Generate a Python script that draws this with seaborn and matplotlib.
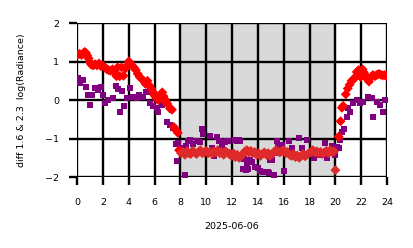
import numpy as np
import pandas as pd
import matplotlib
matplotlib.use("Agg")
import matplotlib.pyplot as plt
import seaborn as sns

# ---- data (hours of 2025-06-06, value) ----
red_hours = [
    0.05, 0.2, 0.35, 0.5, 0.6, 0.7, 0.8, 0.9, 1.0, 1.1, 1.25, 1.4, 1.55, 1.7, 1.85, 2.0,
    2.15, 2.3, 2.45, 2.6, 2.75, 2.9, 3.05, 3.15, 3.3, 3.45, 3.6, 3.75, 3.9, 4.0, 4.1, 4.25,
    4.4, 4.55, 4.7, 4.85, 5.0, 5.15, 5.3, 5.45, 5.6, 5.75, 5.9, 6.0, 6.1, 6.2, 6.3, 6.4,
    6.5, 6.6, 6.7, 6.8, 6.9, 7.0, 7.2, 7.35, 7.5, 7.65, 7.8,
    7.9, 8.05, 8.2, 8.35, 8.5, 8.65, 8.8, 8.95, 9.1, 9.25, 9.4, 9.55, 9.7, 9.85, 10.0,
    10.15, 10.3, 10.45, 10.6, 10.75, 10.9, 11.05, 11.2, 11.35, 11.5, 11.65, 11.8, 11.95,
    12.1, 12.25, 12.4, 12.55, 12.7, 12.85, 13.0, 13.15, 13.3, 13.45, 13.6, 13.75, 13.9,
    14.05, 14.2, 14.35, 14.5, 14.65, 14.8, 14.95, 15.1, 15.25, 15.4, 15.55, 15.7, 15.85,
    16.0, 16.15, 16.3, 16.45, 16.6, 16.75, 16.9, 17.05, 17.2, 17.35, 17.5, 17.65, 17.8,
    17.95, 18.1, 18.25, 18.4, 18.55, 18.7, 18.85, 19.0, 19.15, 19.3, 19.45, 19.6, 19.75,
    19.9, 20.0,
    20.25, 20.4, 20.5, 20.6, 20.8, 20.95, 21.1, 21.25, 21.45, 21.6, 21.65, 21.8, 21.95,
    22.1, 22.2, 22.3, 22.45, 22.6, 22.75, 22.9, 23.05, 23.2, 23.35, 23.5, 23.65, 23.8, 23.95,
]
red_values = [
    1.18, 1.20, 1.17, 1.22, 1.25, 1.22, 1.15, 1.08, 0.98, 0.92, 0.90, 0.93, 0.90, 0.95, 0.88, 0.90,
    0.85, 0.80, 0.78, 0.76, 0.80, 0.72, 0.62, 0.85, 0.62, 0.85, 0.63, 0.82, 0.90, 1.00, 0.97, 0.90,
    0.85, 0.78, 0.68, 0.60, 0.55, 0.50, 0.42, 0.50, 0.38, 0.30, 0.20, 0.12, 0.08, 0.03, 0.00, 0.06,
    0.15, 0.20, 0.10, 0.02, -0.05, -0.10, -0.22, -0.25, -0.70, -0.78, -0.85,
    -1.30, -1.38, -1.35, -1.42, -1.33, -1.38, -1.40, -1.32, -1.36, -1.40, -1.35, -1.30, -1.38, -1.36, -1.32,
    -1.38, -1.34, -1.40, -1.33, -1.36, -1.30, -1.38, -1.35, -1.42, -1.33, -1.37, -1.40, -1.45,
    -1.38, -1.48, -1.42, -1.50, -1.45, -1.40, -1.33, -1.30, -1.36, -1.32, -1.38, -1.35, -1.42,
    -1.38, -1.45, -1.40, -1.36, -1.42, -1.38, -1.45, -1.40, -1.35, -1.30, -1.33, -1.36, -1.32,
    -1.30, -1.38, -1.35, -1.42, -1.45, -1.40, -1.48, -1.44, -1.50, -1.45, -1.40, -1.46, -1.42,
    -1.38, -1.35, -1.30, -1.36, -1.33, -1.38, -1.35, -1.40, -1.36, -1.32, -1.38, -1.30, -1.35,
    -1.33, -1.82,
    -0.95, -0.55, -0.20, -0.15, 0.15, 0.30, 0.40, 0.50, 0.55, 0.62, 0.73, 0.78, 0.60,
    0.80, 0.72, 0.65, 0.55, 0.48, 0.60, 0.65, 0.62, 0.65, 0.68, 0.66, 0.64, 0.65, 0.63,
]

purple_hours = [
    0.08, 0.23, 0.46, 0.70, 0.85, 1.01, 1.16, 1.39, 1.63, 1.86, 2.01, 2.17, 2.40, 2.79, 3.02,
    3.17, 3.33, 3.48, 3.64, 3.87, 4.10, 4.34, 4.64, 4.80, 5.11, 5.34, 5.50, 5.65, 5.88, 6.19,
    6.27, 6.58, 6.97, 7.20, 7.43, 7.66, 7.74, 7.80, 7.97, 8.20, 8.36, 8.40, 8.59, 8.75, 8.98,
    9.29, 9.52, 9.68, 9.75, 10.30, 10.45, 10.53, 10.61, 10.84, 10.99, 11.07, 11.23, 11.46,
    11.61, 11.69, 12.23, 12.39, 12.54, 12.62, 12.85, 12.93, 13.08, 13.16, 13.24, 13.39, 13.55,
    13.78, 14.01, 14.17, 14.40, 14.79, 14.86, 14.94, 15.10, 15.25, 15.33, 15.48, 15.56, 15.64,
    15.87, 16.03, 16.26, 16.41, 16.64, 17.19, 17.42, 17.81, 18.35, 18.58, 18.81, 19.20, 19.35,
    19.74, 19.97, 20.13, 20.28, 20.36, 20.52, 20.67, 20.90, 20.98, 21.14, 21.37, 21.68, 21.91,
    22.14, 22.53, 22.84, 22.92, 23.23, 23.46, 23.69, 23.84,
]
purple_values = [
    0.58, 0.45, 0.53, 0.35, 0.14, -0.12, 0.14, 0.32, 0.27, 0.35, 0.14, -0.07, 0.00, 0.05, 0.37,
    0.30, -0.30, 0.24, -0.15, 0.05, 0.32, 0.09, 0.05, 0.14, 0.09, 0.22, 0.22, -0.07, -0.15, -0.20,
    -0.32, -0.12, -0.58, -0.64, -0.72, -1.15, -1.58, -1.12, -1.28, -1.25, -1.95, -1.20, -1.07, -1.05, -1.15,
    -1.07, -1.10, -0.76, -0.89, -0.94, -1.25, -1.36, -1.46, -0.97, -1.07, -1.07, -1.20, -1.10,
    -1.07, -1.07, -1.05, -1.07, -1.05, -1.07, -1.80, -1.54, -1.82, -1.69, -1.80, -1.56, -1.60,
    -1.75, -1.77, -1.85, -1.88, -1.88, -1.90, -1.55, -1.56, -1.95, -1.36, -1.07, -1.23, -1.38,
    -1.17, -1.85, -1.33, -1.07, -1.25, -0.99, -1.25, -1.05, -1.51, -1.33, -1.43, -1.12, -1.51,
    -1.20, -1.43, -1.23, -1.25, -1.05, -0.82, -0.74, -0.45, -0.20, -0.32, -0.07, 0.01, -0.07,
    -0.04, 0.09, 0.06, -0.45, -0.04, -0.12, -0.32, 0.01,
]

night_start, night_end = 8, 20
x_ticks = list(range(0, 25, 2))
y_ticks = [-2, -1, 0, 1, 2]
x_label = "2025-06-06"
y_label = "diff 1.6 & 2.3  log(Radiance)"

red_df = pd.DataFrame({"hour": red_hours, "value": red_values})
red_df["period"] = np.where((red_df["hour"] >= night_start) & (red_df["hour"] <= night_end),
                            "night", "day")
purple_df = pd.DataFrame({"hour": purple_hours, "value": purple_values})

fig = plt.figure(figsize=(4.14, 2.48), dpi=100)
ax = fig.add_axes([0.186, 0.286, 0.749, 0.621])

ax.axvspan(night_start, night_end, facecolor="#d9d9d9", edgecolor="#c4c4c4",
           linewidth=1, zorder=0.2)

sns.scatterplot(data=purple_df, x="hour", y="value", ax=ax, color="purple",
                marker="s", s=15, linewidth=0, zorder=3, legend=False)
sns.scatterplot(data=red_df, x="hour", y="value", hue="period",
                palette={"day": "red", "night": "#de2a2a"},
                ax=ax, marker="D", s=26, linewidth=0, zorder=4, legend=False)

ax.set_xlim(0, 24)
ax.set_ylim(-2, 2)
ax.set_xticks(x_ticks)
ax.set_yticks(y_ticks)
ax.set_axisbelow(True)
ax.grid(True, color="black", linewidth=1.7, zorder=0.5)
for sp in ax.spines.values():
    sp.set_visible(False)
ax.tick_params(axis="both", length=6, width=1.7, color="black", labelsize=6.8)
ax.tick_params(axis="x", pad=9)
ax.tick_params(axis="y", pad=7)
ax.set_xlabel(x_label, fontsize=6.8, labelpad=11)
ax.set_ylabel(y_label, fontsize=6.8, labelpad=14)

fig.savefig("out.png", dpi=100)
